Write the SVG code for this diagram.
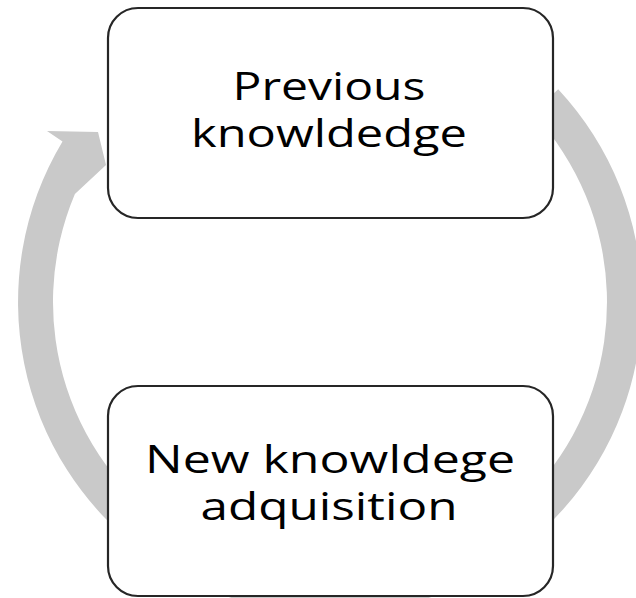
<svg xmlns="http://www.w3.org/2000/svg" width="636" height="598" viewBox="0 0 636 598">
<style>
.box{fill:#ffffff;stroke:#262626;stroke-width:2.2}
.lbl{font-family:"Open Sans","Liberation Sans",sans-serif;font-size:38px;fill:#000000;text-anchor:middle}
.arrow{fill:#c9c9c9;stroke:none}
</style>
<rect width="636" height="598" fill="#ffffff"/>
<g id="connectors">
<path class="arrow" d="M 558.2 89.2 A 312 312 0 1 1 62.5 141.5 L 47 131 L 98 132 L 106 165 L 74.9 194.0 A 277 277 0 1 0 532.6 113.1 Z"/>
</g>
<g id="node-previous">
<rect class="box" x="108" y="8" width="445" height="210" rx="30" ry="30"/>
<text class="lbl" x="329" y="100" textLength="193" lengthAdjust="spacingAndGlyphs">Previous</text>
<text class="lbl" x="329" y="147" textLength="276" lengthAdjust="spacingAndGlyphs">knowldedge</text>
</g>
<g id="node-new">
<rect class="box" x="108" y="386" width="445" height="210" rx="30" ry="30"/>
<text class="lbl" x="330" y="473" textLength="370" lengthAdjust="spacingAndGlyphs">New knowldege</text>
<text class="lbl" x="329" y="520" textLength="257" lengthAdjust="spacingAndGlyphs">adquisition</text>
</g>
</svg>
